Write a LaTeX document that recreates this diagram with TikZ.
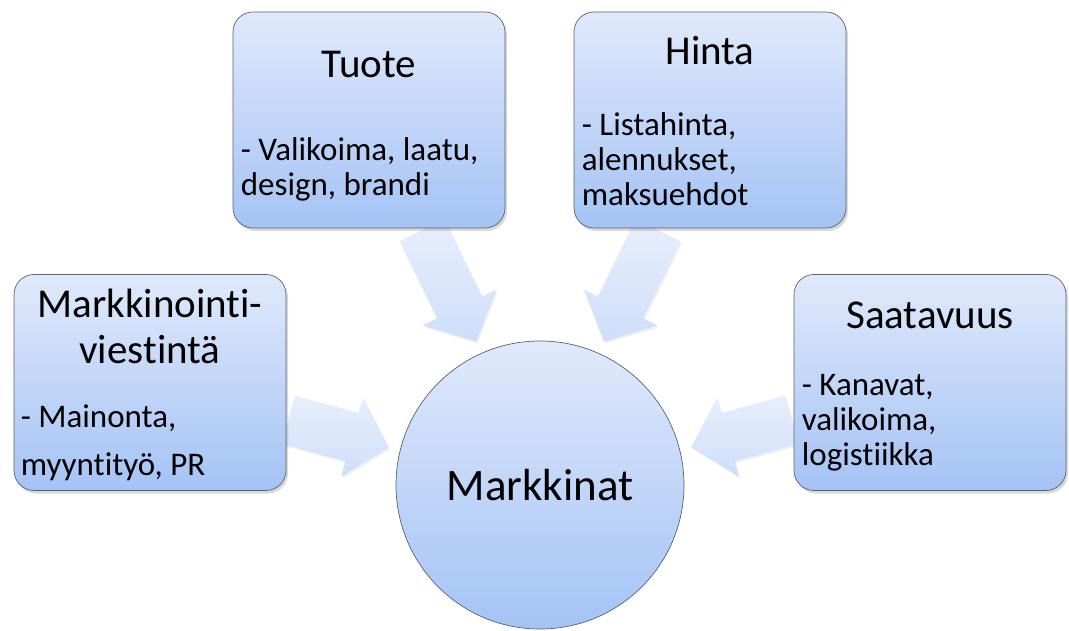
\documentclass[tikz,border=0pt]{standalone}
\usepackage{fontspec}
\setmainfont{Carlito}[Ligatures=NoCommon]
\usepackage{tikz}
\usetikzlibrary{positioning,calc,shadows,backgrounds}
\definecolor{BoxTop}{RGB}{224,233,251}
\definecolor{BoxBot}{RGB}{164,195,245}
\definecolor{ArrTop}{RGB}{232,239,252}
\definecolor{ArrBot}{RGB}{206,222,250}
\definecolor{EdgeGray}{RGB}{92,98,108}

\newcommand{\bigarrow}[2]{%
	\coordinate (hb) at ($(#2)!38pt!(#1)$);
	\path[ar] ($(#1)!25pt!90:(#2)$) -- ($(hb)!25pt!90:(#2)$) -- ($(hb)!41pt!90:(#2)$)
		-- (#2) -- ($(hb)!41pt!-90:(#2)$) -- ($(hb)!25pt!-90:(#2)$) -- ($(#1)!25pt!-90:(#2)$) -- cycle;}

\begin{document}
\begin{tikzpicture}[x=1pt,y=1pt]
					\tikzset{
						bx/.style={draw=EdgeGray, line width=0.7pt, rounded corners=20pt,
							top color=BoxTop, bottom color=BoxBot,
							minimum width=272pt, minimum height=216pt, inner sep=0pt,
							drop shadow={opacity=0.3, shadow xshift=2pt, shadow yshift=-3pt}},
						ci/.style={circle, draw=EdgeGray, line width=0.7pt,
							top color=BoxTop, bottom color=BoxBot,
							minimum size=288pt, inner sep=0pt, font=\fontsize{45}{52}\selectfont},
						hd/.style={font=\fontsize{41}{46}\selectfont, align=center, inner sep=0pt},
						tx/.style={font=\fontsize{33}{35}\selectfont, align=left, inner sep=0pt},
						ar/.style={top color=ArrTop, bottom color=ArrBot,
							drop shadow={opacity=0.12, shadow xshift=1.5pt, shadow yshift=-2pt}}
					}
					\useasboundingbox (0,0) rectangle (1069,630);
					
					\node[bx] (mv) at (150,247.5) {};
					\node[bx] (tu) at (369,510) {};
					\node[bx] (hi) at (710,510) {};
					\node[bx] (sa) at (930,247.5) {};
					\node[ci] (mk) at (540,145) {Markkinat};
					
					\node[hd, anchor=base] (mv-t) at ($(mv.north)+(0,-89)$) {Markkinointi-\\viestintä};
					\node[tx, anchor=base west] (mv-b) at ($(mv.north west)+(7,-201)$) {- Mainonta,\\[13pt]myyntityö, PR};
					\node[hd, anchor=base] (tu-t) at ($(tu.north)+(0,-66)$) {Tuote};
					\node[tx, anchor=base west] (tu-b) at ($(tu.north west)+(8,-184)$) {- Valikoima, laatu,\\design, brandi};
					\node[hd, anchor=base] (hi-t) at ($(hi.north)+(0,-53)$) {Hinta};
					\node[tx, anchor=base west] (hi-b) at ($(hi.north west)+(8,-194)$) {- Listahinta,\\alennukset,\\maksuehdot};
					\node[hd, anchor=base] (sa-t) at ($(sa.north)+(0,-54)$) {Saatavuus};
					\node[tx, anchor=base west] (sa-b) at ($(sa.north west)+(8,-191)$) {- Kanavat,\\valikoima,\\logistiikka};
					
					\coordinate (mv-a) at ($(mv.east)+(2,-37)$);
					\coordinate (tu-a) at ($(tu.south)+(53,-2)$);
					\coordinate (hi-a) at ($(hi.south)+(-52,-2)$);
					\coordinate (sa-a) at ($(sa.west)+(-2,-37)$);
					\coordinate (mv-p) at ($(mk.center)+(166:156)$);
					\coordinate (tu-p) at ($(mk.center)+(114:157)$);
					\coordinate (hi-p) at ($(mk.center)+(66:157)$);
					\coordinate (sa-p) at ($(mk.center)+(14:156)$);
					
					\begin{pgfonlayer}{background}
						\bigarrow{mv-a}{mv-p}
						\bigarrow{tu-a}{tu-p}
						\bigarrow{hi-a}{hi-p}
						\bigarrow{sa-a}{sa-p}
					\end{pgfonlayer}
				\end{tikzpicture}
\end{document}
